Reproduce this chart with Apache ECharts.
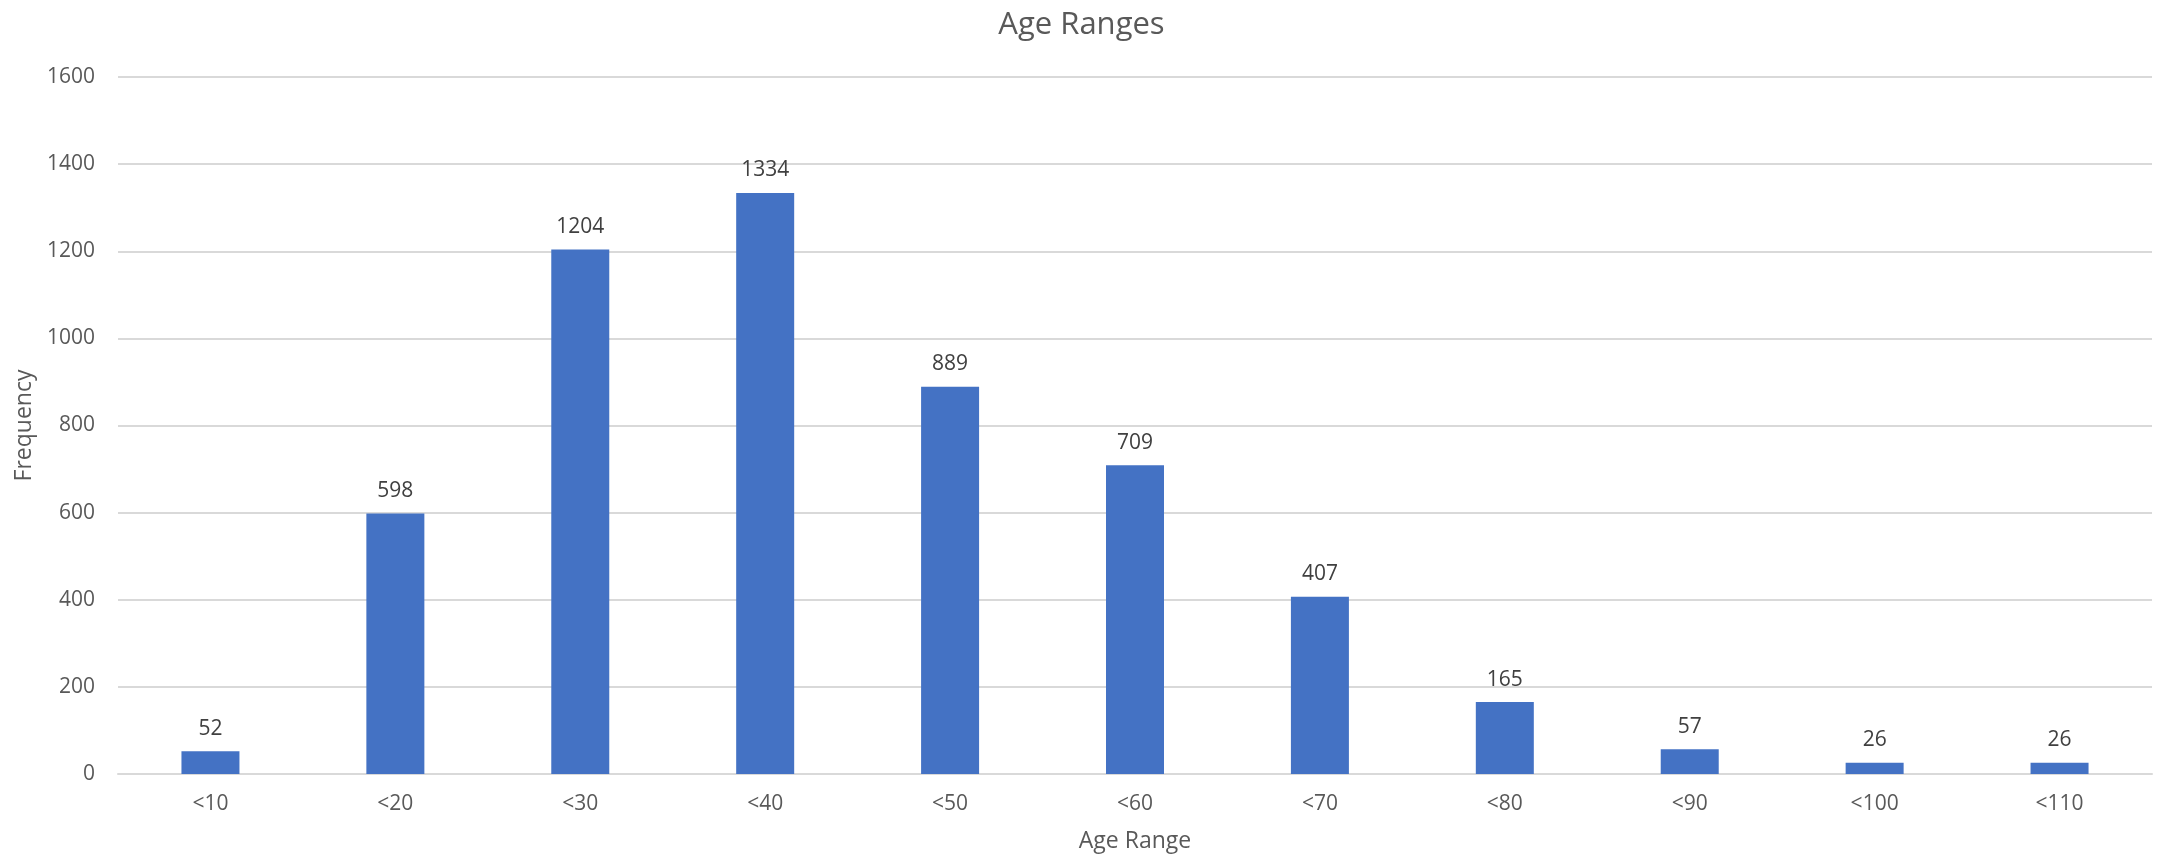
<!DOCTYPE html>
<html>
<head>
<meta charset="utf-8">
<script src="https://cdn.jsdelivr.net/npm/echarts@6/dist/echarts.min.js"></script>
<style>
html,body{margin:0;padding:0;background:#fff;}
#chart{width:2163px;height:859px;}
</style>
</head>
<body>
<div id="chart"></div>
<script>
const categories = ['<10','<20','<30','<40','<50','<60','<70','<80','<90','<100','<110'];
const frequencies = [52, 598, 1204, 1334, 889, 709, 407, 165, 57, 26, 26];
const yTicks = [0, 200, 400, 600, 800, 1000, 1200, 1400, 1600];

const FONT = '"Open Sans", "Noto Sans", sans-serif';
const chart = echarts.init(document.getElementById('chart'), null, {renderer: 'canvas'});
chart.setOption({
  animation: false,
  backgroundColor: '#ffffff',
  title: {
    text: 'Age Ranges',
    left: 'center',
    top: 5,
    textStyle: {fontFamily: FONT, fontSize: 31, fontWeight: 'normal', color: '#595959'}
  },
  grid: {left: 118, right: 11, top: 77, bottom: 85, containLabel: false},
  xAxis: {
    type: 'category',
    data: categories,
    name: 'Age Range',
    nameLocation: 'middle',
    nameGap: 56,
    nameTextStyle: {fontFamily: FONT, fontSize: 23, color: '#595959'},
    axisLine: {show: true, lineStyle: {color: '#D9D9D9', width: 2}},
    axisTick: {show: false},
    axisLabel: {fontFamily: FONT, fontSize: 21, color: '#595959', margin: 20}
  },
  yAxis: {
    type: 'value',
    min: yTicks[0],
    max: yTicks[yTicks.length - 1],
    interval: yTicks[1] - yTicks[0],
    name: 'Frequency',
    nameLocation: 'middle',
    nameGap: 81,
    nameTextStyle: {fontFamily: FONT, fontSize: 23, color: '#595959'},
    axisLine: {show: false},
    axisTick: {show: false},
    axisLabel: {fontFamily: FONT, fontSize: 21, color: '#595959', margin: 23, formatter: function (v) { return String(v); }},
    splitLine: {show: true, lineStyle: {color: '#D9D9D9', width: 2}}
  },
  series: [{
    type: 'bar',
    data: frequencies,
    barWidth: 58,
    itemStyle: {color: '#4472C4'},
    label: {
      show: true,
      position: 'top',
      distance: 12,
      fontFamily: FONT,
      fontSize: 21,
      color: '#404040'
    }
  }]
});
</script>
</body>
</html>
